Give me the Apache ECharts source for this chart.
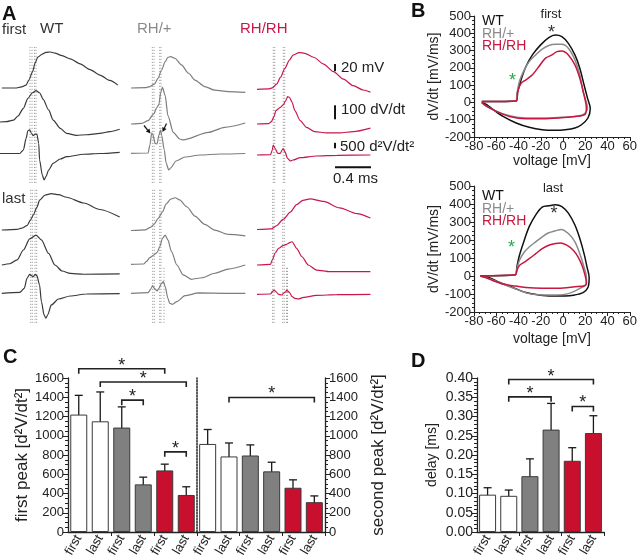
<!DOCTYPE html>
<html><head><meta charset="utf-8">
<script src="https://cdn.jsdelivr.net/npm/echarts@6.0.0/dist/echarts.min.js"></script>
<style>html,body{margin:0;padding:0;background:#fff}#main{width:640px;height:560px}</style>
</head><body><div id="main"></div>
<script>
// ---------------- DATA ----------------
// Panel A traces: [time (ms), value]; V in mV, dV/dt in mV/ms, d2V/dt2 in V/s^2-like units
const wtFirstV = [[0.02,-72],[0.17,-72],[0.24,-69],[0.29,-64],[0.32,-50],[0.36,-28],[0.39,-3],[0.42,14],[0.47,22],[0.51,27],[0.56,28],[0.61,25],[0.69,18],[0.78,9],[0.89,-5],[1.0,-21],[1.11,-36],[1.22,-51],[1.31,-64]];
const wtFirstDV = [[0,0],[0.07,2],[0.15,14],[0.2,43],[0.26,98],[0.31,169],[0.36,209],[0.4,224],[0.44,209],[0.48,162],[0.54,86],[0.59,14],[0.67,-45],[0.74,-81],[0.85,-95],[0.96,-91],[1.11,-81],[1.22,-69],[1.33,-52]];
const wtFirstD2 = [[0,0],[0.22,0],[0.26,320],[0.29,1380],[0.31,2070],[0.33,2140],[0.35,1840],[0.37,1620],[0.39,1770],[0.41,1770],[0.43,930],[0.44,-590],[0.47,-1950],[0.49,-2410],[0.51,-2110],[0.54,-1500],[0.59,-890],[0.67,-500],[0.74,-290],[0.93,-70],[1.11,0],[1.33,110]];
const hetFirstV = [[0,-72],[0.16,-71],[0.21,-68],[0.26,-61],[0.30,-45],[0.34,-22],[0.38,1],[0.41,13],[0.44,15],[0.49,10],[0.56,-8],[0.64,-31],[0.71,-50],[0.82,-68],[0.93,-78],[1.08,-82],[1.27,-84]];
const hetFirstDV = [[0,0],[0.12,5],[0.19,24],[0.25,71],[0.29,119],[0.31,140],[0.33,225],[0.35,262],[0.38,202],[0.41,60],[0.47,-60],[0.54,-107],[0.58,-114],[0.86,-60],[1.04,-24],[1.27,7]];
const hetFirstD2 = [[0,0],[0.19,27],[0.21,755],[0.23,1845],[0.24,1755],[0.27,890],[0.29,845],[0.31,1663],[0.33,2118],[0.34,1663],[0.37,300],[0.39,-880],[0.42,-1518],[0.44,-1336],[0.50,-700],[0.60,-336],[0.77,-155],[0.99,-64],[1.27,-18]];
const homFirstV = [[0,-72],[0.13,-71],[0.17,-68],[0.22,-57],[0.26,-39],[0.31,-14],[0.36,9],[0.40,23],[0.47,30],[0.53,28],[0.63,17],[0.74,-2],[0.85,-23],[0.96,-44],[1.07,-62],[1.18,-74],[1.26,-80]];
const homFirstDV = [[0,0],[0.13,3],[0.16,17],[0.19,55],[0.21,96],[0.26,119],[0.29,136],[0.32,167],[0.34,196],[0.36,191],[0.39,155],[0.42,96],[0.48,24],[0.55,-24],[0.64,-54],[0.77,-64],[0.92,-64],[1.07,-54],[1.26,-29]];
const homFirstD2 = [[0,0],[0.15,27],[0.17,455],[0.18,910],[0.20,610],[0.23,155],[0.26,155],[0.28,455],[0.29,573],[0.31,300],[0.34,-300],[0.37,-545],[0.40,-455],[0.48,-245],[0.66,-90],[0.89,-27],[1.26,0]];
const wtLastV = [[0.02,-72],[0.19,-70],[0.24,-67],[0.30,-60],[0.34,-44],[0.37,-30],[0.41,-9],[0.44,11],[0.50,25],[0.57,29],[0.65,26],[0.74,19],[0.93,3],[1.11,-15],[1.33,-36]];
const wtLastDV = [[0.02,0],[0.11,9],[0.19,36],[0.26,107],[0.33,186],[0.40,214],[0.46,179],[0.54,83],[0.61,0],[0.69,-43],[0.78,-60],[0.93,-66],[1.33,-64]];
const wtLastD2 = [[0.02,0],[0.22,90],[0.27,455],[0.30,1360],[0.33,1730],[0.35,1600],[0.37,1510],[0.39,1730],[0.41,1600],[0.44,755],[0.46,-760],[0.49,-1970],[0.51,-2270],[0.53,-1970],[0.57,-1060],[0.65,-520],[0.78,-245],[0.96,-64],[1.33,-30]];
const hetLastV = [[0,-72],[0.16,-70],[0.21,-64],[0.26,-54],[0.30,-39],[0.35,-20],[0.39,1],[0.44,15],[0.49,19],[0.54,13],[0.62,-6],[0.71,-32],[0.82,-55],[0.93,-71],[1.08,-83],[1.27,-87]];
const hetLastDV = [[0,0],[0.14,2],[0.17,19],[0.21,47],[0.25,66],[0.29,83],[0.32,126],[0.35,186],[0.38,209],[0.41,174],[0.45,90],[0.51,-5],[0.58,-76],[0.67,-107],[0.79,-96],[0.93,-64],[1.08,-34],[1.27,-5]];
const hetLastD2 = [[0,0],[0.19,55],[0.22,390],[0.24,690],[0.26,455],[0.29,210],[0.31,455],[0.34,910],[0.36,1055],[0.38,600],[0.41,-455],[0.43,-910],[0.46,-1000],[0.51,-760],[0.60,-220],[0.75,30],[1.04,0],[1.27,0]];
const homLastV = [[0,-72],[0.16,-70],[0.22,-61],[0.29,-44],[0.37,-24],[0.44,-3],[0.51,9],[0.59,13],[0.74,6],[0.92,-12],[1.11,-28],[1.26,-40]];
const homLastDV = [[0,0],[0.15,5],[0.17,36],[0.20,84],[0.24,119],[0.29,138],[0.33,148],[0.37,162],[0.39,166],[0.44,119],[0.50,59],[0.57,0],[0.66,-36],[0.81,-48],[1.03,-48],[1.26,-48]];
const homLastD2 = [[0,0],[0.15,27],[0.17,236],[0.19,390],[0.21,236],[0.24,0],[0.27,-64],[0.31,182],[0.33,364],[0.36,182],[0.39,-218],[0.42,-364],[0.46,-427],[0.52,-273],[0.66,-91],[0.89,-36],[1.26,0]];
// dotted peak markers (ms)
const wtFirstMarks = [0.333,0.356,0.383,0.4];
const hetFirstMarks = [0.237,0.256,0.319,0.333];
const homFirstMarks = [0.181,0.197,0.292,0.308];
const wtLastMarks = [0.341,0.359,0.389,0.408];
const hetLastMarks = [0.241,0.259,0.319,0.333];
const homLastMarks = [0.174,0.189,0.286,0.303];
const hetLastShortMarks = [0.367];
const homLastShortMarks = [0.328,0.339];
// scale bars
const scaleBarV = 20, scaleBarDV = 100, scaleBarD2 = 500, scaleBarT = 0.4;

// Panel B phase plots: [voltage mV, dV/dt mV/ms]
const bFirstWT = [[-73,5],[-42.1,8],[-40.7,63],[-37.7,131],[-33.3,208],[-27.5,275],[-20.1,333],[-12.8,375],[-6.9,390],[-1,381],[4.8,342],[10.7,275],[15.1,198],[18.9,102],[22,25],[24.5,-35],[22.4,-90],[16.6,-129],[10.7,-148],[1.9,-158],[-6.9,-161],[-18.7,-158],[-30.4,-144],[-42.1,-119],[-53.9,-81],[-62.7,-42],[-68.6,-13],[-73,0]];
const bFirstHet = [[-73,5],[-42.1,8],[-41.5,44],[-39.2,121],[-34.8,188],[-30.4,236],[-24.5,275],[-18.7,308],[-12.8,329],[-6.9,336],[-1,336],[4.8,313],[10.7,246],[15.1,160],[18,63],[22,-33],[18,-71],[10.7,-81],[-4,-87],[-18.7,-90],[-33.3,-90],[-48,-77],[-59.7,-52],[-70,-17],[-73,0]];
const bFirstHom = [[-73,5],[-42.1,8],[-40.7,63],[-37.7,111],[-33.3,131],[-27.5,160],[-21.6,208],[-15.7,256],[-9.9,275],[-5.5,294],[-1,298],[4.8,275],[10.7,217],[15.1,140],[18.9,44],[21,-33],[19.5,-71],[10.7,-81],[-4,-90],[-18.7,-94],[-33.3,-94],[-48,-81],[-59.7,-52],[-68.6,-23],[-73,0]];
const bLastWT = [[-74.4,2],[-42.7,7.5],[-41.5,49],[-39.2,114],[-34.8,199],[-30.4,274],[-24.5,340],[-18.7,383],[-12.8,390],[-6.9,396],[-1,386],[4.8,349],[10.7,283],[15.1,208],[18.9,124],[21.6,49],[23.5,-7],[22.4,-64],[18,-92],[10.7,-105],[1.9,-111],[-9.9,-111],[-21.6,-105],[-33.3,-92],[-45.1,-64],[-56.8,-36],[-65.6,-11],[-74.4,0]];
const bLastHet = [[-74.4,2],[-42.7,7.5],[-41.5,39],[-39.2,86],[-34.8,133],[-30.4,161],[-24.5,190],[-18.7,218],[-12.8,240],[-6.9,251],[-1.6,259],[4.8,236],[10.7,190],[15.1,124],[18.9,49],[21,-7.5],[21,-45],[16.6,-64],[4.8,-98],[-6.9,-105],[-18.7,-105],[-30.4,-98],[-42.1,-73],[-53.9,-45],[-65.6,-17],[-74.4,0]];
const bLastHom = [[-74.4,2],[-42.7,7.5],[-41.5,30],[-39.2,58],[-34.8,77],[-30.4,96],[-24.5,124],[-18.7,152],[-12.8,171],[-6.9,180],[-2.5,184],[3.4,171],[9.2,143],[13.6,105],[17.1,58],[19.5,11],[21,-36],[19.5,-54],[10.7,-60],[-4,-68],[-18.7,-68],[-33.3,-64],[-45.1,-54],[-53.9,-45],[-62.7,-26],[-70,-7.5],[-74.4,0]];

// Panel C / D bars
const barCategories = ['first','last','first','last','first','last'];
const firstPeakMean = [1220, 1150, 1085, 495, 640, 385];
const firstPeakSd   = [200, 305, 215, 75, 65, 85];
const secondPeakMean = [915, 785, 795, 630, 460, 310];
const secondPeakSd   = [150, 140, 110, 95, 82, 65];
const delayMean = [0.097, 0.094, 0.145, 0.266, 0.185, 0.257];
const delaySd   = [0.018, 0.015, 0.045, 0.068, 0.034, 0.045];
// significance brackets: [from category, to category, level]
const firstPeakSig = [[0,4,1696],[1,5,1558],[2,3,1370],[4,5,833]];
const secondPeakSig = [[1,5,1398]];
const delaySig = [[1,5,0.396],[1,3,0.351],[4,5,0.326]];

// ---------------- LAYOUT / STYLE ----------------
const FONT = '"Liberation Sans", Arial, Helvetica, sans-serif';
const RED = '#c8174a', GREY = '#7d7d7d', DARK = '#3a3a3a';
const traceColors = [DARK, GREY, RED];
const PX_PER_MS = 90;
const colLayout = [{left:0, tmax:1.34}, {left:131, tmax:1.27}, {left:257, tmax:1.27}];
const setLayout = [{top:47, height:136}, {top:188, height:135}];
const rowScale = [0.36, 0.14, 0.011];      // px per unit
const rowBaseVal = [-72, 0, 0];
const baselines = [
  [[88,122,153.5],[88,124,153.3],[89.3,124,155]],
  [[230,265,293.3],[230.5,264.3,293.3],[229.5,265,294.3]]
];
const traces = [
  [[wtFirstV,wtFirstDV,wtFirstD2],[hetFirstV,hetFirstDV,hetFirstD2],[homFirstV,homFirstDV,homFirstD2]],
  [[wtLastV,wtLastDV,wtLastD2],[hetLastV,hetLastDV,hetLastD2],[homLastV,homLastDV,homLastD2]]
];
const marks = [[wtFirstMarks,hetFirstMarks,homFirstMarks],[wtLastMarks,hetLastMarks,homLastMarks]];
const shortMarks = [[[],[],[]],[[],hetLastShortMarks,homLastShortMarks]];

const grids = [], xAxes = [], yAxes = [], series = [];
const add = (arr, o) => { arr.push(o); return arr.length - 1; };
const plain = (v) => String(v);

function markerSeries(xi, yi, times, frac) {
  return {type:'custom', xAxisIndex:xi, yAxisIndex:yi, silent:true, clip:false, z:1,
    data: times.map(t => [t, 0]),
    renderItem: (p, api) => {
      const a = api.coord([api.value(0), 0]), b = api.coord([api.value(0), frac]);
      return {type:'line', shape:{x1:a[0],y1:a[1],x2:b[0],y2:b[1]},
        style:{stroke:'#8c8c8c', lineWidth:0.8, lineDash:[1.2,1.8]}};
    }};
}

const scaleRefs = {};
for (let s = 0; s < 2; s++) {
  for (let c = 0; c < 3; c++) {
    const L = colLayout[c], S = setLayout[s];
    const g = add(grids, {left:L.left, top:S.top, width:L.tmax*PX_PER_MS, height:S.height});
    const xi = add(xAxes, {type:'value', gridIndex:g, min:0, max:L.tmax, show:false});
    const yIdx = [];
    for (let r = 0; r < 3; r++) {
      const b = baselines[s][c][r], k = rowScale[r], v0 = rowBaseVal[r];
      yIdx.push(add(yAxes, {type:'value', gridIndex:g, show:false,
        min: v0 - (S.top + S.height - b)/k, max: v0 + (b - S.top)/k}));
    }
    const fi = add(yAxes, {type:'value', gridIndex:g, show:false, min:0, max:1});
    for (let r = 0; r < 3; r++) {
      series.push({type:'line', xAxisIndex:xi, yAxisIndex:yIdx[r], data:traces[s][c][r], z:3,
        showSymbol:false, symbol:'none', smooth:0.25, smoothMonotone:'x', silent:true, clip:false,
        lineStyle:{color:traceColors[c], width:1.2}});
    }
    series.push(markerSeries(xi, fi, marks[s][c], 1));
    if (shortMarks[s][c].length) series.push(markerSeries(xi, fi, shortMarks[s][c], 0.41));
    if (s === 0 && c === 2) scaleRefs.xi = xi, scaleRefs.y = yIdx;
  }
}
// scale bars (anchored in RH/RH first column)
const sbX = 0.867;
const sbStyle = {color:'#111', width:2};
series.push({type:'line', xAxisIndex:scaleRefs.xi, yAxisIndex:scaleRefs.y[0], data:[[sbX,-21.7],[sbX,-21.7+scaleBarV]], showSymbol:false, silent:true, lineStyle:sbStyle, clip:false});
series.push({type:'line', xAxisIndex:scaleRefs.xi, yAxisIndex:scaleRefs.y[1], data:[[sbX,33.6],[sbX,33.6+scaleBarDV]], showSymbol:false, silent:true, lineStyle:sbStyle, clip:false});
series.push({type:'line', xAxisIndex:scaleRefs.xi, yAxisIndex:scaleRefs.y[2], data:[[sbX,609],[sbX,609+scaleBarD2]], showSymbol:false, silent:true, lineStyle:sbStyle, clip:false});
series.push({type:'line', xAxisIndex:scaleRefs.xi, yAxisIndex:scaleRefs.y[2], data:[[sbX,-1118],[sbX+scaleBarT,-1118]], showSymbol:false, silent:true, lineStyle:sbStyle, clip:false});

// ---------- Panel B ----------
const axisCol = '#222';
function bAxes(g, nameGapX) {
  const xi = add(xAxes, {type:'value', gridIndex:g, min:-80, max:60, interval:20,
    axisLine:{show:true, onZero:false, lineStyle:{color:axisCol, width:1.2}},
    axisTick:{show:true, length:4, lineStyle:{color:axisCol}},
    minorTick:{show:true, splitNumber:4, length:2, lineStyle:{color:axisCol}},
    splitLine:{show:false}, axisLabel:{fontSize:13, color:axisCol, margin:3, formatter:plain},
    name:'voltage [mV]', nameLocation:'middle', nameGap:nameGapX, nameTextStyle:{fontSize:14, color:axisCol}});
  const yi = add(yAxes, {type:'value', gridIndex:g, min:-200, max:500, interval:100,
    axisLine:{show:true, onZero:false, lineStyle:{color:axisCol, width:1.2}},
    axisTick:{show:true, length:4, lineStyle:{color:axisCol}},
    minorTick:{show:true, splitNumber:4, length:2, lineStyle:{color:axisCol}},
    splitLine:{show:false}, axisLabel:{fontSize:13, color:axisCol, margin:3, formatter:plain},
    name:'dV/dt [mV/ms]', nameLocation:'middle', nameGap:33, nameRotate:90, nameTextStyle:{fontSize:14, color:axisCol}});
  return [xi, yi];
}
const gB1 = add(grids, {left:474, top:16, width:158, height:121});
const gB2 = add(grids, {left:474, top:186, width:158, height:126});
const [bx1, by1] = bAxes(gB1, 14);
const [bx2, by2] = bAxes(gB2, 20);
const loopCols = ['#111111', '#8a8a8a', '#c8173f'];
[[bFirstWT,bFirstHet,bFirstHom],[bLastWT,bLastHet,bLastHom]].forEach((set, k) => {
  set.forEach((d, i) => series.push({type:'line', xAxisIndex:k?bx2:bx1, yAxisIndex:k?by2:by1, data:d,
    showSymbol:false, symbol:'none', smooth:0.3, silent:true, lineStyle:{color:loopCols[i], width:1.5}}));
});

// ---------- Panels C and D ----------
const barFill = ['#ffffff','#ffffff','#808080','#808080','#c8102e','#c8102e'];
function catAxis(g) {
  return add(xAxes, {type:'category', gridIndex:g, data:barCategories,
    axisLine:{show:true, lineStyle:{color:axisCol, width:1.3}},
    axisTick:{show:true, length:4, interval:(i) => i === 2 || i === 4, lineStyle:{color:axisCol}},
    axisLabel:{rotate:60, fontSize:13, color:axisCol, margin:4, interval:0}});
}
function valAxis(g, o) {
  return add(yAxes, Object.assign({type:'value', gridIndex:g,
    axisLine:{show:true, lineStyle:{color:axisCol, width:1.3}},
    axisTick:{show:true, length:5, lineStyle:{color:axisCol}},
    minorTick:{show:true, splitNumber:4, length:3, lineStyle:{color:axisCol}},
    splitLine:{show:false}, axisLabel:{fontSize:13, color:axisCol, margin:4, formatter:plain},
    nameLocation:'middle', nameRotate:90, nameTextStyle:{fontSize:17, color:axisCol}}, o));
}
function barSeries(xi, yi, means) {
  return {type:'bar', xAxisIndex:xi, yAxisIndex:yi, barWidth:17, silent:true,
    data: means.map((v, i) => ({value:v, itemStyle:{color:barFill[i], borderColor:'#3a3a3a', borderWidth:1}}))};
}
function errSeries(xi, yi, means, sd) {
  return {type:'custom', xAxisIndex:xi, yAxisIndex:yi, silent:true, clip:false, encode:{x:0, y:[1,2]},
    data: means.map((m, i) => [i, m - sd[i], m + sd[i]]),
    renderItem: (p, api) => {
      const a = api.coord([api.value(0), api.value(1)]), b = api.coord([api.value(0), api.value(2)]);
      const w = 4, st = {stroke:'#1a1a1a', lineWidth:1.3};
      return {type:'group', children:[
        {type:'line', shape:{x1:a[0],y1:a[1],x2:b[0],y2:b[1]}, style:st},
        {type:'line', shape:{x1:a[0]-w,y1:a[1],x2:a[0]+w,y2:a[1]}, style:st},
        {type:'line', shape:{x1:b[0]-w,y1:b[1],x2:b[0]+w,y2:b[1]}, style:st}]};
    }};
}
function sigSeries(xi, yi, sig) {
  return {type:'custom', xAxisIndex:xi, yAxisIndex:yi, silent:true, clip:false, encode:{x:[0,1], y:2},
    data: sig,
    renderItem: (p, api) => {
      const a = api.coord([api.value(0), api.value(2)]), b = api.coord([api.value(1), api.value(2)]);
      return {type:'group', children:[
        {type:'polyline', shape:{points:[[a[0],a[1]+5],[a[0],a[1]],[b[0],b[1]],[b[0],b[1]+5]]},
          style:{stroke:'#222', lineWidth:1.6, fill:null}},
        {type:'text', style:{text:'*', x:(a[0]+b[0])/2, y:a[1]-3, align:'center', verticalAlign:'middle',
          font:'18px ' + FONT, fill:'#222'}}]};
    }};
}
const gC1 = add(grids, {left:68, top:378, width:129, height:155});
const gC2 = add(grids, {left:197, top:378, width:128, height:155});
const gD = add(grids, {left:477, top:378, width:127, height:155});
const cx1 = catAxis(gC1), cx2 = catAxis(gC2), dx = catAxis(gD);
const cy1 = valAxis(gC1, {min:0, max:1600, interval:200, position:'left', name:'first peak [d²V/dt²]', nameGap:34});
const cy2 = valAxis(gC2, {min:0, max:1600, interval:200, position:'right', name:'second peak [d²V/dt²]', nameGap:45});
add(yAxes, {type:'value', gridIndex:gC2, position:'left', min:0, max:1600,
  axisLine:{show:true, lineStyle:{color:axisCol, width:1.5, type:'dotted'}},
  axisTick:{show:false}, axisLabel:{show:false}, splitLine:{show:false}});
const dy = valAxis(gD, {min:0, max:0.4, interval:0.05, position:'left', name:'delay [ms]', nameGap:38,
  minorTick:{show:true, splitNumber:5, length:3, lineStyle:{color:axisCol}},
  axisLabel:{fontSize:14, color:axisCol, margin:4, formatter:(v) => v.toFixed(2)},
  nameTextStyle:{fontSize:14, color:axisCol}});
series.push(barSeries(cx1, cy1, firstPeakMean), errSeries(cx1, cy1, firstPeakMean, firstPeakSd), sigSeries(cx1, cy1, firstPeakSig));
series.push(barSeries(cx2, cy2, secondPeakMean), errSeries(cx2, cy2, secondPeakMean, secondPeakSd), sigSeries(cx2, cy2, secondPeakSig));
series.push(barSeries(dx, dy, delayMean), errSeries(dx, dy, delayMean, delaySd), sigSeries(dx, dy, delaySig));

// ---------- annotations ----------
const txt = (text, x, y, size, color, opts) => Object.assign({type:'text', x, y, silent:true,
  style:{text, font:(opts && opts.bold ? 'bold ' : '') + size + 'px ' + FONT, fill:color || '#222',
    align:(opts && opts.align) || 'left', verticalAlign:'middle'}});
function arrow(x1, y1, x2, y2) {
  const dxv = x2 - x1, dyv = y2 - y1, len = Math.hypot(dxv, dyv), ux = dxv/len, uy = dyv/len;
  const bx = x2 - ux*4.5, by = y2 - uy*4.5, nx = -uy*2.3, ny = ux*2.3;
  return [{type:'line', silent:true, shape:{x1, y1, x2:bx, y2:by}, style:{stroke:'#111', lineWidth:1.2}},
          {type:'polygon', silent:true, shape:{points:[[x2,y2],[bx+nx,by+ny],[bx-nx,by-ny]]}, style:{fill:'#111'}}];
}
const graphics = [
  txt('A', 2, 14, 20, '#111', {bold:true}), txt('B', 411, 11, 20, '#111', {bold:true}),
  txt('C', 3, 357, 20, '#111', {bold:true}), txt('D', 411, 361, 20, '#111', {bold:true}),
  txt('first', 2, 30, 15, '#333'), txt('WT', 40, 29, 15, '#333'), txt('RH/+', 137, 29, 15, '#8a8a8a'),
  txt('RH/RH', 240, 29, 15, RED), txt('last', 2, 199, 15, '#333'),
  txt('20 mV', 341, 67.5, 15, '#222'), txt('100 dV/dt', 341, 110, 15, '#222'),
  txt('500 d²V/dt²', 340, 146.5, 15, '#222'), txt('0.4 ms', 333, 179, 15, '#222'),
  txt('first', 551, 14, 13, '#222', {align:'center'}), txt('last', 553, 188, 13, '#222', {align:'center'}),
  txt('WT', 482, 21.5, 14, '#111'), txt('RH/+', 482, 34, 14, '#8a8a8a'), txt('RH/RH', 482, 46.5, 14, '#c8173f'),
  txt('WT', 482, 196.5, 14, '#111'), txt('RH/+', 482, 209, 14, '#8a8a8a'), txt('RH/RH', 482, 221.5, 14, '#c8173f'),
  txt('*', 512.5, 81, 18, '#2aa84a', {align:'center'}), txt('*', 551.5, 33, 18, '#333', {align:'center'}),
  txt('*', 511.5, 248, 18, '#2aa84a', {align:'center'}), txt('*', 554, 214, 18, '#333', {align:'center'}),
  ...arrow(144, 125.5, 150.5, 133.5), ...arrow(166.5, 123.5, 162.5, 132)
];

const chart = echarts.init(document.getElementById('main'), null, {renderer:'canvas'});
chart.setOption({
  animation:false, backgroundColor:'#fff',
  textStyle:{fontFamily:FONT},
  grid:grids, xAxis:xAxes, yAxis:yAxes, series, graphic:graphics
});
</script></body></html>
